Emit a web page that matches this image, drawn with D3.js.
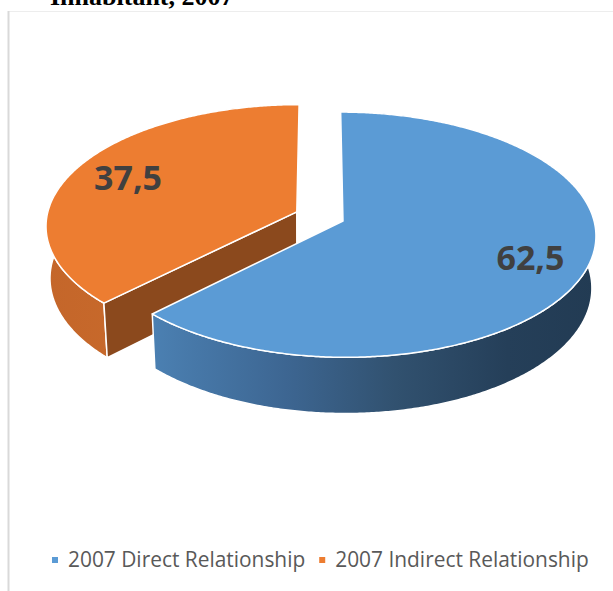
<!DOCTYPE html>
<html><head><meta charset="utf-8">
<script src="https://cdn.jsdelivr.net/npm/d3@7"></script>
<style>body{margin:0;background:#fff;} svg{display:block;}</style>
</head><body>
<script>
// ---- data ----
const categories = ["2007 Direct Relationship", "2007 Indirect Relationship"];
const values = [62.5, 37.5];
const valueLabels = ["62,5", "37,5"];
const topColors = ["#5B9BD5", "#ED7D31"];
const titleText = "Inhabitant, 2007";

// ---- setup ----
const W = 613, H = 591;
const svg = d3.select("body").append("svg").attr("width", W).attr("height", H);

const R = 250, depth = 60, tilt = 28.7 * Math.PI / 180, D = 1975, explode = 25, cx = 319.8, cy = 216.4;
const ct = Math.cos(tilt), st = Math.sin(tilt);
function proj(X, Y, Z) { const u = Y * ct + Z * st, w = Z * ct - Y * st, s = D / (D + w); return [cx + X * s, cy - u * s]; }

const color = d3.scaleOrdinal().domain(categories).range(topColors);
const pie = d3.pie().sort(null).value(d => d.value);
const data = categories.map((c, i) => ({ cat: c, value: values[i], label: valueLabels[i], i }));
const arcs = pie(data);
arcs.forEach(a => {
  a.mid = (a.startAngle + a.endAngle) / 2;
  a.ox = explode * Math.sin(a.mid);
  a.oz = explode * Math.cos(a.mid);
});

const rim = (a, t, Y) => proj(a.ox + R * Math.sin(t), Y, a.oz + R * Math.cos(t));
const ctr = (a, Y) => proj(a.ox, Y, a.oz);
function rimPts(a, t0, t1, Y) {
  const n = Math.max(2, Math.ceil(Math.abs(t1 - t0) / (Math.PI / 360)));
  return d3.range(n + 1).map(k => rim(a, t0 + (t1 - t0) * k / n, Y));
}
const line = d3.line();
function sArea(p) { let s = 0; for (let i = 0; i < p.length; i++) { const q = p[(i + 1) % p.length]; s += p[i][0] * q[1] - q[0] * p[i][1]; } return s / 2; }

// gradients for side walls
const defs = svg.append("defs");
const wallStops = {
  "2007 Direct Relationship": [[0, "#4B80B2"], [0.3, "#3D6692"], [0.55, "#31516F"], [0.8, "#253F59"], [1, "#223B53"]],
  "2007 Indirect Relationship": [[0, "#C4662A"], [0.6, "#CB6C2C"], [1, "#CF6F2D"]]
};

// frame
svg.append("line").attr("x1", 8).attr("x2", W).attr("y1", 11.5).attr("y2", 11.5).attr("stroke", "#EDEDED").attr("stroke-width", 1);
svg.append("line").attr("x1", 8.5).attr("x2", 8.5).attr("y1", 11).attr("y2", H).attr("stroke", "#D9D9D9").attr("stroke-width", 2);

// title (partially cut off at top, as in the reference)
svg.append("text").attr("x", 50).attr("y", 5).text(titleText)
  .attr("font-family", "'Liberation Serif', 'Times New Roman', serif").attr("font-weight", "bold")
  .attr("font-size", 26).attr("fill", "#000");

const gPie = svg.append("g");
const order = arcs.slice().sort((p, q) => Math.cos(q.mid) - Math.cos(p.mid));
order.forEach(a => {
  const g = gPie.append("g");
  const wallPts = rimPts(a, a.startAngle, a.endAngle, 0).concat(rimPts(a, a.endAngle, a.startAngle, -depth));
  const xs = wallPts.map(p => p[0]);
  const gid = "wall" + a.index;
  const grad = defs.append("linearGradient").attr("id", gid).attr("gradientUnits", "userSpaceOnUse")
    .attr("x1", d3.min(xs)).attr("x2", d3.max(xs)).attr("y1", 0).attr("y2", 0);
  wallStops[a.data.cat].forEach(s => grad.append("stop").attr("offset", s[0]).attr("stop-color", s[1]));
  g.append("path").attr("d", line(wallPts) + "Z").attr("fill", `url(#${gid})`)
    .attr("stroke", "#fff").attr("stroke-width", 1.5).attr("stroke-linejoin", "round");

  // cut faces
  [[a.startAngle, -1], [a.endAngle, 1]].forEach(([t, sign]) => {
    const quad = [ctr(a, 0), rim(a, t, 0), rim(a, t, -depth), ctr(a, -depth)];
    const ar = sArea(quad);
    if (ar * sign > 0) {
      const base = d3.rgb(color(a.data.cat));
      const fill = Math.abs(ar) > 500 ? base.darker(1.5) : base.brighter(0.6);
      g.append("path").attr("d", line(quad) + "Z").attr("fill", fill)
        .attr("stroke", "#fff").attr("stroke-width", 1.5).attr("stroke-linejoin", "round");
    }
  });

  const topPts = [ctr(a, 0)].concat(rimPts(a, a.startAngle, a.endAngle, 0));
  g.append("path").attr("d", line(topPts) + "Z").attr("fill", color(a.data.cat))
    .attr("stroke", "#fff").attr("stroke-width", 1.5).attr("stroke-linejoin", "round");
});

// value labels
arcs.forEach(a => {
  const f = 0.77;
  const p = proj(a.ox + f * R * Math.sin(a.mid), 0, a.oz + f * R * Math.cos(a.mid));
  svg.append("text").attr("x", p[0] + 2).attr("y", p[1]).attr("dy", "0.36em")
    .attr("text-anchor", "middle").attr("font-family", "'Open Sans', sans-serif")
    .attr("font-weight", "bold").attr("font-size", 34).attr("fill", "#404040").text(a.data.label);
});

// legend
const leg = svg.append("g");
let lx = 52;
const ly = 566.5;
categories.forEach((c, i) => {
  leg.append("rect").attr("x", lx).attr("y", ly - 9.5).attr("width", 6).attr("height", 6).attr("fill", color(c));
  const t = leg.append("text").attr("x", lx + 16).attr("y", ly).text(c)
    .attr("font-family", "'Open Sans', sans-serif").attr("font-size", 20.9).attr("fill", "#595959");
  lx = lx + 16 + t.node().getComputedTextLength() + 14;
});
</script>
</body></html>
